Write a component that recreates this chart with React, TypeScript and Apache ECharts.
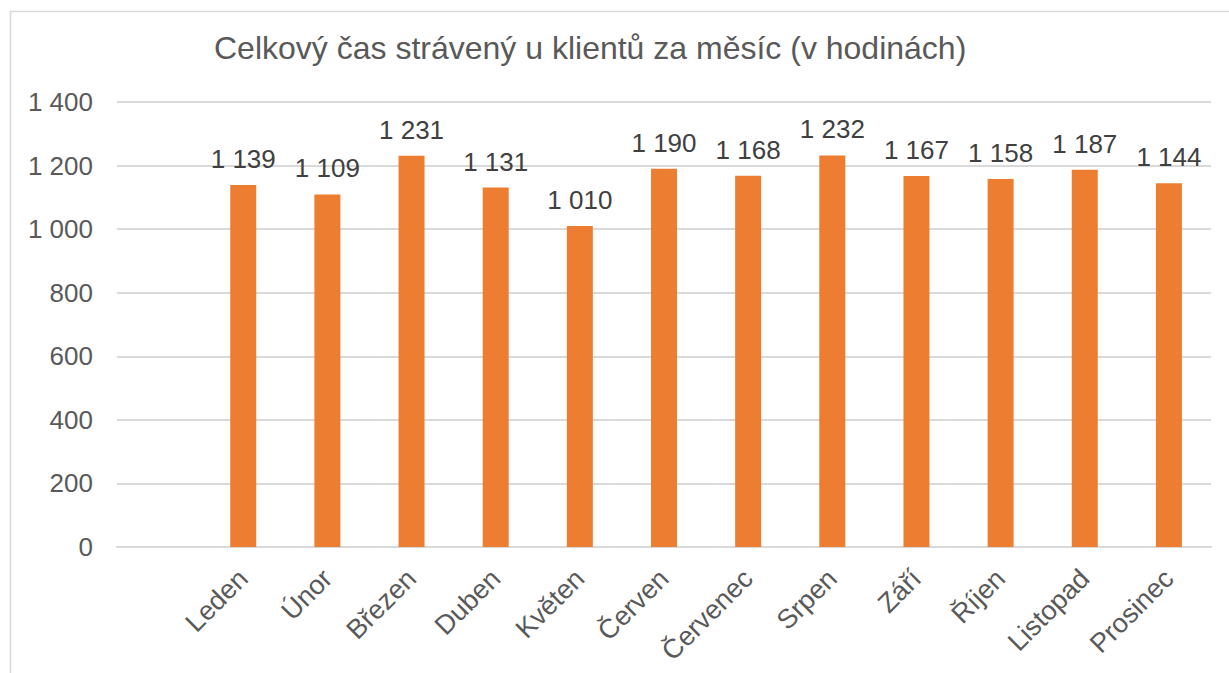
import React, { useEffect, useRef } from "react";
import * as echarts from "echarts";

const title = "Celkový čas strávený u klientů za měsíc (v hodinách)";
const months = ["Leden", "Únor", "Březen", "Duben", "Květen", "Červen", "Červenec", "Srpen", "Září", "Říjen", "Listopad", "Prosinec"];
const hours = [1139, 1109, 1231, 1131, 1010, 1190, 1168, 1232, 1167, 1158, 1187, 1144];

const fmt = (v: number) => {
  const s = String(Math.round(v));
  return s.replace(/\B(?=(\d{3})+(?!\d))/g, " ");
};

const FONT = "Liberation Sans, Arial, sans-serif";

export default function App() {
  const ref = useRef<HTMLDivElement>(null);
  useEffect(() => {
    if (!ref.current) return;
    const chart = echarts.init(ref.current, undefined, { renderer: "svg" });
    const cats = [""].concat(months);
    const vals: any[] = ["-"].concat(hours as any);
    chart.setOption({
      animation: false,
      backgroundColor: "#ffffff",
      textStyle: { fontFamily: FONT },
      title: {
        text: title,
        left: 209,
        top: 27,
        textStyle: { fontSize: 32, fontWeight: "normal", color: "#595959", fontFamily: FONT },
      },
      graphic: [
        {
          type: "rect",
          shape: { x: 10.5, y: 11.5, width: 1300, height: 700 },
          style: { fill: "none", stroke: "#d9d9d9", lineWidth: 1.5 },
          silent: true,
        },
      ],
      grid: { left: 117, right: 18, top: 102, bottom: 126, containLabel: false },
      xAxis: {
        type: "category",
        data: cats,
        axisTick: { show: false },
        axisLine: { lineStyle: { color: "#d9d9d9", width: 2 } },
        axisLabel: {
          rotate: 45,
          interval: 0,
          margin: 27,
          fontSize: 27,
          color: "#595959",
          fontFamily: FONT,
        },
      },
      yAxis: {
        type: "value",
        min: 0,
        max: 1400,
        interval: 200,
        axisLine: { show: false },
        axisTick: { show: false },
        splitLine: { lineStyle: { color: "#d9d9d9", width: 2 } },
        axisLabel: {
          fontSize: 26,
          color: "#595959",
          margin: 24,
          formatter: (v: number) => fmt(v),
          fontFamily: FONT,
        },
      },
      series: [
        {
          type: "bar",
          data: vals,
          barWidth: 26,
          itemStyle: { color: "#ED7D31" },
          label: {
            show: true,
            position: "top",
            distance: 13,
            fontSize: 26,
            color: "#404040",
            formatter: (p: any) => fmt(p.value),
            fontFamily: FONT,
          },
        },
      ],
    });
    return () => chart.dispose();
  }, []);
  return <div ref={ref} style={{ position: "fixed", left: 0, top: 0, width: 1229, height: 673 }} />;
}
